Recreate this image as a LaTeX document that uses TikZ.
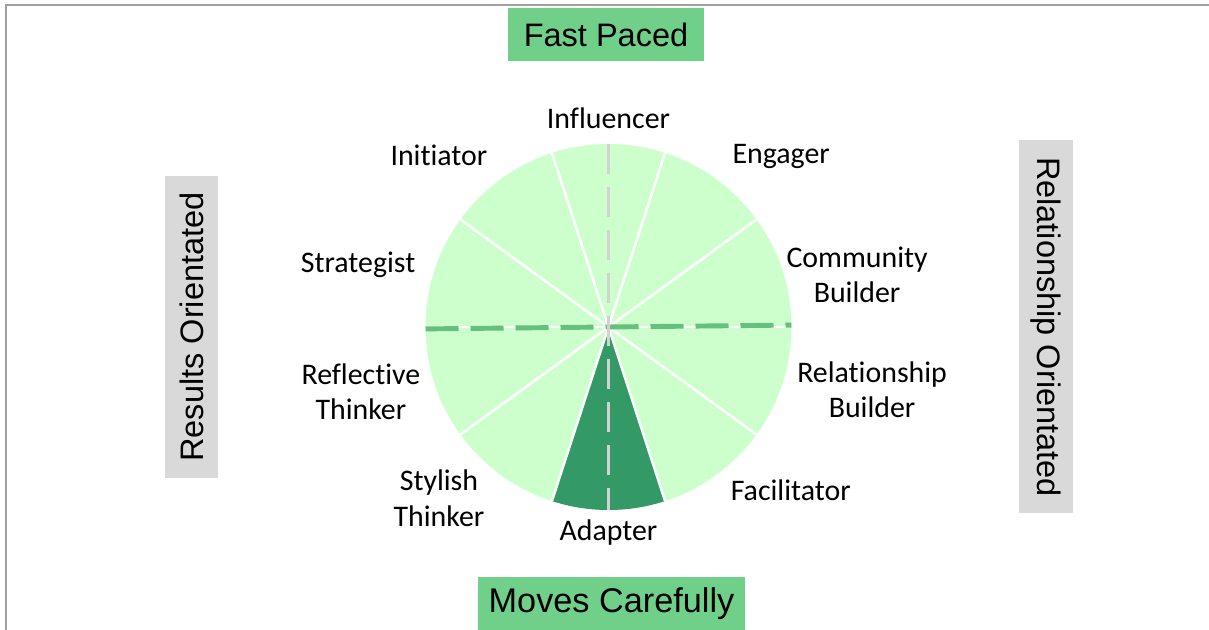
\documentclass[tikz,border=0pt]{standalone}
\usepackage{fontspec}
\setmainfont{Carlito}[Ligatures=NoCommon]
\newfontfamily\boxfont{Liberation Sans}
\usepackage{tikz}
\usetikzlibrary{calc}

\definecolor{sectorgreen}{RGB}{204,255,204}
\definecolor{adaptergreen}{RGB}{51,153,102}
\definecolor{boxgreen}{RGB}{112,208,138}
\definecolor{axisgreen}{RGB}{100,192,124}
\definecolor{axisgrey}{RGB}{210,210,210}
\definecolor{boxgrey}{RGB}{217,217,217}
\definecolor{framegrey}{RGB}{160,160,160}

\begin{document}
\begin{tikzpicture}[
    seg/.style={font=\fontsize{17}{20}\selectfont, align=center, inner sep=0pt},
    axisbox/.style={font=\boxfont\fontsize{18.5}{22}\selectfont, inner sep=0pt, minimum height=1.06cm},
  ]
  \def\R{3.66}
  \coordinate (O) at (0,0);
  \useasboundingbox (-12.17,-6.06) rectangle (12.01,6.54);

  % slide frame
  \draw[framegrey, line width=0.9pt] (-12.05,-6.3) -- (-12.05,6.44) -- (12.3,6.44);

  % wheel
  \fill[sectorgreen] (O) circle (\R);
  \fill[adaptergreen] (O) -- (252:\R) arc (252:288:\R) -- cycle;
  \foreach \a in {0,36,...,324}
    \draw[white, line width=1.4pt] (O) -- (\a:\R);

  % axes through the centre
  \draw[axisgreen, line width=2.8pt, dash pattern=on 0.66cm off 0.24cm] (180.6:\R) -- (0.6:\R);
  \draw[axisgrey, line width=2.2pt, dash pattern=on 0.6cm off 0.26cm] (90:\R) -- (270:\R);

  % styles round the wheel
  \node[seg] (influencer) at (90:4.18)    {Influencer};
  \node[seg] (engager)    at (44.7:4.86)  {Engager};
  \node[seg] (community)  at (11.8:5.08)  {Community\\Builder};
  \node[seg] (relbuilder) at (-13.4:5.42) {Relationship\\Builder};
  \node[seg] (facilitator) at (-41.8:4.89) {Facilitator};
  \node[seg] (adapter)    at (270:4.12)   {Adapter};
  \node[seg] (stylish)    at (225.3:4.82) {Stylish\\Thinker};
  \node[seg] (reflective) at (194.7:5.12) {Reflective\\Thinker};
  \node[seg] (strategist) at (166.1:5.16) {Strategist};
  \node[seg] (initiator)  at (134.6:4.83) {Initiator};

  % axis captions
  \node[axisbox, fill=boxgreen, minimum width=3.92cm] (fast) at (-0.05,5.85) {Fast Paced};
  \node[axisbox, fill=boxgreen, minimum width=5.34cm, font=\boxfont\fontsize{19.5}{22}\selectfont] (careful) at (0.06,-5.53) {Moves Carefully};
  \node[axisbox, fill=boxgrey, minimum width=6.04cm, rotate=90] (results) at (-8.34,0) {Results Orientated};
  \node[axisbox, fill=boxgrey, minimum width=7.46cm, minimum height=1.08cm, rotate=-90] (relation) at (8.75,0) {Relationship Orientated};
\end{tikzpicture}
\end{document}
